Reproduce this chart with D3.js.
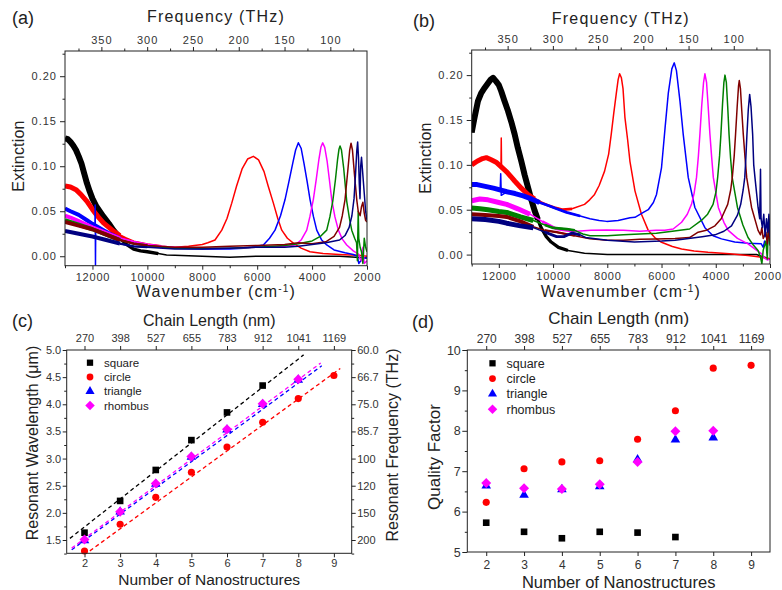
<!DOCTYPE html>
<html>
<head>
<meta charset="utf-8">
<script src="https://cdn.jsdelivr.net/npm/d3@7"></script>
<style>
body { margin: 0; background: #fff; }
</style>
</head>
<body>
<svg id="fig" width="782" height="590"></svg>
<script>
// ---- spectra (wavenumber cm-1, extinction) ----
// a third value of 1 marks a single-pixel spike
var aBlack = [[13000,0.131],[12900,0.130],[12800,0.127],[12700,0.123],[12600,0.118],[12500,0.111],[12400,0.103],[12300,0.092],[12200,0.081],[12100,0.072],[12000,0.064],[11850,0.055],[11600,0.044],[11400,0.036],[11240,0.029],[11000,0.020],[10750,0.013],[10500,0.008],[10250,0.006],[10000,0.005],[9600,0.003],[9300,0.0015],[9000,0.001],[8000,0.000],[7000,-0.001],[6000,0.000],[5000,0.000],[4000,0.000],[3000,0.000],[2400,-0.001],[2000,-0.002]];
var aRed = [[13000,0.078],[12800,0.077],[12600,0.074],[12400,0.068],[12200,0.061],[12000,0.052],[11800,0.044],[11600,0.037],[11400,0.032],[11200,0.027],[11000,0.023],[10800,0.020],[10500,0.016],[10000,0.013],[9500,0.011],[9000,0.010],[8500,0.011],[8000,0.013],[7800,0.015],[7536,0.018],[7290,0.029],[7100,0.042],[6927,0.059],[6750,0.078],[6550,0.097],[6350,0.108],[6140,0.111],[5950,0.107],[5750,0.094],[5600,0.078],[5410,0.059],[5250,0.042],[5105,0.029],[4900,0.020],[4683,0.0145],[4400,0.009],[4076,0.005],[3600,0.003],[3000,0.002],[2618,0.0015],[2300,0.001],[2000,0.000]];
var aBlue = [[13000,0.053],[12800,0.050],[12500,0.046],[12200,0.040],[12000,0.036],[11910,0.034,1],[11900,0.057,1],[11890,-0.010,1],[11880,0.033,1],[11600,0.029],[11300,0.024],[11000,0.020],[10500,0.015],[10000,0.012],[9500,0.010],[9000,0.009],[8000,0.008],[7000,0.008],[6500,0.009],[6200,0.010],[5776,0.0125],[5550,0.020],[5350,0.029],[5150,0.045],[4985,0.063],[4850,0.082],[4700,0.104],[4600,0.118],[4500,0.126],[4400,0.120],[4300,0.104],[4180,0.083],[4075,0.063],[3950,0.044],[3831,0.029],[3650,0.018],[3467,0.0125],[3200,0.007],[2800,0.004],[2500,0.002],[2350,0.000],[2300,-0.008],[2200,-0.004],[2100,-0.002],[2000,-0.002]];
var aMagenta = [[13000,0.045],[12800,0.043],[12500,0.039],[12000,0.032],[11500,0.026],[11000,0.020],[10500,0.016],[10000,0.013],[9500,0.011],[9000,0.010],[8000,0.009],[7000,0.009],[6000,0.010],[5500,0.010],[5000,0.011],[4620,0.0125],[4400,0.018],[4195,0.029],[4080,0.044],[3955,0.063],[3850,0.085],[3750,0.108],[3680,0.121],[3613,0.126],[3540,0.121],[3450,0.105],[3370,0.085],[3285,0.063],[3170,0.044],[3043,0.029],[2900,0.019],[2738,0.0125],[2500,0.006],[2300,0.002],[2250,-0.003],[2190,-0.005],[2150,0.010],[2100,-0.008],[2000,-0.005]];
var aGreen = [[13000,0.040],[12500,0.035],[12000,0.030],[11500,0.024],[11000,0.018],[10500,0.014],[10000,0.012],[9000,0.009],[8000,0.009],[7000,0.009],[6000,0.010],[5000,0.012],[4500,0.014],[4000,0.017],[3700,0.022],[3467,0.029],[3350,0.044],[3248,0.061],[3150,0.085],[3070,0.108],[3020,0.119],[2982,0.1225],[2930,0.118],[2850,0.098],[2738,0.061],[2640,0.042],[2556,0.029],[2450,0.020],[2380,0.015],[2350,-0.005],[2320,0.050],[2300,0.020],[2250,0.010],[2200,0.005],[2150,-0.008],[2100,0.020],[2050,0.010],[2000,0.005]];
var aMaroon = [[13000,0.038],[12500,0.034],[12000,0.030],[11500,0.024],[11000,0.018],[10500,0.014],[10000,0.012],[9000,0.010],[8000,0.010],[7000,0.011],[6000,0.012],[5000,0.013],[4500,0.015],[4000,0.014],[3500,0.016],[3200,0.022],[3000,0.032],[2900,0.045],[2800,0.063],[2700,0.095],[2630,0.118],[2581,0.1255],[2530,0.118],[2460,0.092],[2374,0.063],[2320,0.050],[2250,0.045],[2200,0.055],[2150,0.060],[2100,0.048],[2050,0.040],[2000,0.038]];
var aNavy = [[13000,0.028],[12500,0.025],[12000,0.022],[11500,0.018],[11000,0.014],[10500,0.011],[10000,0.010],[9000,0.008],[8000,0.008],[7000,0.009],[6000,0.010],[5000,0.010],[4500,0.011],[4000,0.013],[3500,0.015],[3000,0.018],[2800,0.023],[2650,0.032],[2550,0.045],[2472,0.064],[2420,0.090],[2370,0.118],[2340,0.127],[2310,0.110],[2280,0.080],[2254,0.064],[2230,0.100],[2200,0.110],[2150,0.090],[2100,0.070],[2050,0.050],[2000,0.040]];

var bBlack = [[13000,0.136],[12900,0.152],[12770,0.171],[12650,0.180],[12520,0.186],[12400,0.191],[12300,0.195],[12215,0.197],[12100,0.193],[12000,0.189],[11910,0.182],[11800,0.172],[11660,0.160],[11540,0.148],[11415,0.134],[11300,0.119],[11170,0.104],[11050,0.089],[10925,0.075],[10800,0.061],[10680,0.049],[10560,0.039],[10440,0.030],[10250,0.020],[10070,0.014],[9800,0.008],[9450,0.0045],[8840,0.0015],[8000,0.000],[7000,0.000],[6000,0.000],[5000,0.000],[4000,0.000],[3000,0.000],[2500,0.000],[2200,-0.003],[2000,-0.005]];
var bRed = [[13000,0.100],[12800,0.104],[12600,0.107],[12460,0.108],[12300,0.106],[12100,0.103],[11920,0.100,1],[11910,0.130,1],[11900,0.100,1],[11700,0.092],[11415,0.082],[11170,0.074],[10925,0.067],[10680,0.062],[10440,0.058],[10200,0.055],[9950,0.0525],[9634,0.050],[9300,0.051],[8840,0.056],[8650,0.061],[8470,0.067],[8300,0.077],[8100,0.093],[7950,0.112],[7855,0.134],[7760,0.158],[7670,0.179],[7600,0.195],[7545,0.2015],[7480,0.197],[7420,0.185],[7350,0.153],[7250,0.128],[7165,0.104],[6980,0.071],[6740,0.045],[6490,0.027],[6250,0.019],[6000,0.0137],[5600,0.009],[5260,0.0063],[4800,0.004],[4285,0.0026],[3500,0.001],[2810,-0.001],[2300,-0.003],[2000,-0.005]];
var bBlue = [[13000,0.078],[12800,0.078],[12500,0.076],[12200,0.074],[11950,0.072,1],[11930,0.090,1],[11910,0.066,1],[11700,0.070],[11400,0.068],[11100,0.0655],[10800,0.062],[10500,0.058],[10200,0.055],[9870,0.051],[9500,0.047],[9000,0.043],[8640,0.040],[8300,0.038],[8020,0.037],[7600,0.038],[7160,0.041],[6980,0.0415],[6670,0.047],[6490,0.050],[6300,0.058],[6185,0.067],[6000,0.097],[5870,0.141],[5750,0.180],[5620,0.207],[5530,0.2137],[5450,0.205],[5320,0.171],[5200,0.134],[5015,0.086],[4770,0.0525],[4400,0.030],[4100,0.021],[3790,0.0175],[3300,0.014],[2810,0.0126],[2320,0.012],[2250,0.008],[2200,0.015],[2100,0.010],[2050,0.030],[2000,0.012]];
var bMagenta = [[13000,0.060],[12700,0.062],[12400,0.061],[12000,0.058],[11710,0.056],[11300,0.051],[10850,0.045],[10400,0.037],[9870,0.0285],[9500,0.027],[9130,0.026],[8600,0.027],[8025,0.0275],[7400,0.027],[6800,0.026],[6200,0.027],[5880,0.027],[5570,0.0285],[5260,0.036],[5050,0.045],[4895,0.056],[4800,0.068],[4710,0.086],[4640,0.110],[4585,0.134],[4520,0.165],[4450,0.192],[4400,0.2015],[4340,0.192],[4280,0.165],[4215,0.134],[4150,0.108],[4090,0.086],[3905,0.0525],[3700,0.036],[3540,0.027],[3200,0.018],[2810,0.012],[2500,0.005],[2320,0.001],[2200,-0.004],[2100,-0.006],[2000,-0.005]];
var bGreen = [[13000,0.052],[12700,0.051],[12400,0.050],[12000,0.048],[11710,0.047],[11200,0.042],[10730,0.038],[10300,0.033],[9990,0.0297],[9700,0.029],[9500,0.0285],[9200,0.027],[8900,0.023],[8640,0.021],[8000,0.021],[7410,0.022],[6800,0.023],[6190,0.0237],[5600,0.026],[4965,0.0285],[4530,0.038],[4300,0.045],[4100,0.056],[3990,0.070],[3930,0.086],[3860,0.110],[3810,0.134],[3750,0.168],[3700,0.192],[3660,0.200],[3610,0.192],[3560,0.165],[3510,0.134],[3455,0.108],[3395,0.086],[3200,0.0525],[3000,0.033],[2810,0.019],[2600,0.010],[2440,0.0045],[2350,-0.003],[2300,-0.010],[2250,0.005],[2150,0.015],[2100,-0.005],[2050,0.040],[2000,0.010]];
var bMaroon = [[13000,0.045],[12500,0.044],[12000,0.043],[11710,0.042],[11200,0.037],[10730,0.031],[10300,0.027],[9870,0.025],[9200,0.021],[8640,0.0175],[8000,0.016],[7410,0.016],[6800,0.017],[6200,0.0175],[5500,0.018],[4965,0.019],[4650,0.025],[4350,0.027],[4030,0.032],[3800,0.040],[3560,0.056],[3450,0.072],[3390,0.086],[3320,0.110],[3270,0.134],[3210,0.165],[3160,0.188],[3133,0.194],[3090,0.185],[3040,0.160],[2985,0.134],[2920,0.108],[2860,0.086],[2680,0.0525],[2440,0.027],[2350,0.022],[2300,0.030],[2250,0.018],[2150,0.025],[2100,0.012],[2050,0.028],[2000,0.015]];
var bNavy = [[13000,0.040],[12500,0.039],[12000,0.037],[11710,0.035],[11200,0.032],[10730,0.030],[10300,0.025],[9870,0.020],[9600,0.020],[9300,0.024],[9000,0.022],[8800,0.019],[8000,0.016],[7000,0.014],[6000,0.015],[5500,0.016],[5000,0.018],[4500,0.020],[4030,0.022],[3700,0.026],[3420,0.032],[3200,0.044],[3080,0.056],[2990,0.072],[2930,0.086],[2890,0.108],[2850,0.134],[2800,0.162],[2750,0.1785],[2700,0.165],[2640,0.134],[2600,0.100],[2555,0.086],[2440,0.0525],[2380,0.040],[2350,0.095],[2330,0.040],[2280,0.030],[2230,0.045],[2180,0.020],[2130,0.040],[2080,0.025],[2040,0.045],[2000,0.020]];

// ---- summary data vs number of nanostructures ----
var nValues = [2, 3, 4, 5, 6, 7, 8, 9];
var chainLength = [270, 398, 527, 655, 783, 912, 1041, 1169];
var shapes = ["square", "circle", "triangle", "rhombus"];

// resonant wavelength (um)
var wlSquare = [1.635, 2.22, 2.79, 3.34, 3.85, 4.345];
var wlCircle = [1.297, 1.79, 2.286, 2.747, 3.214, 3.67, 4.105, 4.53];
var wlTriangle = [1.49, 2.02, 2.53, 3.03, 3.53, 4.00, 4.45];
var wlRhombus = [1.51, 2.02, 2.54, 3.04, 3.54, 4.01, 4.46];
// dashed linear fits, [N, wavelength] end points
var fitSquare = [[1.59, 1.53], [8.15, 4.91]];
var fitCircle = [[2.15, 1.30], [9.18, 4.66]];
var fitTriangle = [[1.64, 1.32], [8.66, 4.71]];
var fitRhombus = [[1.64, 1.35], [8.63, 4.76]];

// quality factor
var qSquare = [5.725, 5.50, 5.34, 5.50, 5.48, 5.37];
var qCircle = [6.23, 7.06, 7.23, 7.26, 7.79, 8.495, 9.55, 9.62];
var qTriangle = [6.64, 6.41, 6.55, 6.62, 7.29, 7.78, 7.83];
var qRhombus = [6.71, 6.58, 6.56, 6.68, 7.23, 7.99, 8.00];

// ---- tick values ----
var wnTicks = [12000, 10000, 8000, 6000, 4000, 2000];
var wnMinor = [13000, 11000, 9000, 7000, 5000, 3000];
var thzTicks = [350, 300, 250, 200, 150, 100];
var thzMinor = [375, 325, 275, 225, 175, 125, 75];
var extTicks = [0, 0.05, 0.10, 0.15, 0.20];
var extMinor = [0.025, 0.075, 0.125, 0.175, 0.225];
var wlTicks = [1.5, 2.0, 2.5, 3.0, 3.5, 4.0, 4.5, 5.0];
var wlMinor = [1.25, 1.75, 2.25, 2.75, 3.25, 3.75, 4.25, 4.75];
var freqLabels = ["200", "150", "120", "100", "85.7", "75.0", "66.7", "60.0"];
var qTicks = [5, 6, 7, 8, 9, 10];
var qMinor = [5.5, 6.5, 7.5, 8.5, 9.5];

var C = 0.0299792458; // THz per cm-1
var colors = ["#000000", "#ff0000", "#0000ff", "#ff00ff", "#008000", "#800000", "#000080"];
var font = "'Liberation Sans', Arial, sans-serif";
var ink = "#222", tickInk = "#333";

var svg = d3.select("#fig").attr("font-family", font);

function axis(gen, tx, ty, fs, spacing) {
    var a = svg.append("g")
        .attr("transform", "translate(" + tx + "," + ty + ")")
        .call(gen);
    a.attr("font-family", font).attr("font-size", fs);
    a.select(".domain").remove();
    a.selectAll("line").attr("stroke", ink);
    a.selectAll("text").attr("fill", tickInk).style("letter-spacing", (spacing || 0) + "px");
    return a;
}

function title(x, y, txt, fs, rotate, spacing) {
    var t = svg.append("text")
        .attr("text-anchor", "middle")
        .attr("font-size", fs)
        .attr("fill", ink)
        .style("letter-spacing", (spacing || 0) + "px")
        .attr("transform", "translate(" + x + "," + y + ")" + (rotate ? " rotate(-90)" : ""));
    t.text(txt);
    return t;
}

function frame(x0, y0, x1, y1) {
    svg.append("rect")
        .attr("x", x0).attr("y", y0)
        .attr("width", x1 - x0).attr("height", y1 - y0)
        .attr("fill", "none").attr("stroke", ink).attr("stroke-width", 1);
}

// ---- spectrum panels (a), (b) ----
function spectrumPanel(p, series) {
    var x = d3.scaleLinear().domain([13000, 2000]).range([p.x0, p.x1]);
    var f = d3.scaleLinear().domain([13000 * C, 2000 * C]).range([p.x0, p.x1]);
    var y = d3.scaleLinear().domain([-0.0105, 0.228]).range([p.y1, p.y0]);

    svg.append("clipPath").attr("id", "clip" + p.name)
        .append("rect")
        .attr("x", p.x0).attr("y", p.y0)
        .attr("width", p.x1 - p.x0).attr("height", p.y1 - p.y0);
    var plot = svg.append("g").attr("clip-path", "url(#clip" + p.name + ")");

    var line = d3.line()
        .x(function(d) { return x(d[0]); })
        .y(function(d) { return y(d[1]); });

    series.forEach(function(s, i) {
        var smooth = s.filter(function(d) { return !d[2]; });
        // noisy band at high wavenumber
        plot.append("path")
            .datum(smooth.filter(function(d) { return d[0] >= p.noiseCut; }))
            .attr("d", line).attr("fill", "none")
            .attr("stroke", colors[i]).attr("stroke-width", p.noise[i])
            .attr("stroke-linejoin", "round");
        plot.append("path")
            .datum(smooth.filter(function(d) { return d[0] >= p.noiseCut - 1500 && d[0] <= p.noiseCut + 200; }))
            .attr("d", line).attr("fill", "none")
            .attr("stroke", colors[i]).attr("stroke-width", p.noise[i] * 0.55)
            .attr("stroke-linejoin", "round");
        plot.append("path")
            .datum(s)
            .attr("d", line).attr("fill", "none")
            .attr("stroke", colors[i]).attr("stroke-width", 1.5)
            .attr("stroke-linejoin", "round");
    });

    frame(p.x0, p.y0, p.x1, p.y1);

    var bottom = axis(d3.axisBottom(x).tickValues(wnTicks).tickSize(4).tickPadding(4).tickFormat(d3.format("d")), 0, p.y1, 11, 0.8);
    bottom.selectAll("text").filter(function(d) { return d === 2000; }).attr("dx", p.lastDx);
    axis(d3.axisBottom(x).tickValues(wnMinor).tickSize(2.5).tickFormat(""), 0, p.y1, 11);
    axis(d3.axisTop(f).tickValues(thzTicks).tickSize(4).tickPadding(3).tickFormat(d3.format("d")), 0, p.y0, 11, 1);
    axis(d3.axisTop(f).tickValues(thzMinor).tickSize(2.5).tickFormat(""), 0, p.y0, 11);
    axis(d3.axisLeft(y).tickValues(extTicks).tickSize(5).tickPadding(3).tickFormat(d3.format(".2f")), p.x0, 0, 11, 1);
    axis(d3.axisLeft(y).tickValues(extMinor).tickSize(2.5).tickFormat(""), p.x0, 0, 11);

    var cx = (p.x0 + p.x1) / 2;
    title(cx, 22 + p.dy, "Frequency (THz)", 16, false, 1.2);
    var w = title(cx, 297, "Wavenumber (cm", 16, false, 1.2);
    w.append("tspan").attr("baseline-shift", "super").attr("font-size", 10).text("-1");
    w.append("tspan").text(")");
    title(p.ytx, p.yty, "Extinction", 16, true, 0.2);
    svg.append("text").attr("x", p.lx).attr("y", p.ly).attr("font-size", 18).attr("fill", ink).text(p.label);
}

spectrumPanel({name: "a", x0: 65, x1: 367, y0: 51, y1: 265.7, noiseCut: 11000, lastDx: 0,
    noise: [6, 5, 4, 4, 4, 4, 4], ytx: 24, yty: 156, lx: 12, ly: 24, label: "(a)", dy: 0},
    [aBlack, aRed, aBlue, aMagenta, aGreen, aMaroon, aNavy]);
spectrumPanel({name: "b", x0: 471.7, x1: 770, y0: 50, y1: 264, noiseCut: 10500, lastDx: -2.5,
    noise: [6, 5, 5, 5, 5, 4, 5], ytx: 431, yty: 158, lx: 413, ly: 27, label: "(b)", dy: 2},
    [bBlack, bRed, bBlue, bMagenta, bGreen, bMaroon, bNavy]);

// ---- marker helper ----
var symbolTypes = [d3.symbolSquare, d3.symbolCircle, d3.symbolTriangle, d3.symbolSquare];
var symbolSizes = [44, 40, 40, 50];
var symbolColors = ["#000000", "#ff0000", "#0000ff", "#ff00ff"];

function marker(g, k, px, py, scale) {
    var s = scale || 1;
    g.append("path")
        .attr("d", d3.symbol().type(symbolTypes[k]).size(symbolSizes[k] * s)())
        .attr("fill", symbolColors[k])
        .attr("transform", "translate(" + px + "," + py + ")" + (k === 3 ? " rotate(45)" : ""));
}

function legend(x0, y0, step, fs) {
    var g = svg.append("g");
    shapes.forEach(function(name, k) {
        marker(g, k, x0, y0 + k * step, 0.9);
        g.append("text")
            .attr("x", x0 + 14).attr("y", y0 + k * step + fs * 0.36)
            .attr("font-size", fs).attr("fill", ink).text(name);
    });
}

// ---- panel (c) ----
(function() {
    var x0 = 66.7, x1 = 351.7, y0 = 350, y1 = 553.3;
    var x = d3.scaleLinear().domain([1.5, 9.5]).range([x0, x1]);
    var y = d3.scaleLinear().domain([1.255, 5.0]).range([y1, y0]);
    var g = svg.append("g");

    var fits = [fitSquare, fitCircle, fitTriangle, fitRhombus];
    fits.forEach(function(fl, k) {
        g.append("path")
            .datum(fl)
            .attr("d", d3.line().x(function(d) { return x(d[0]); }).y(function(d) { return y(d[1]); }))
            .attr("fill", "none").attr("stroke", symbolColors[k])
            .attr("stroke-width", 1.3).attr("stroke-dasharray", "4,3");
    });

    [wlSquare, wlCircle, wlTriangle, wlRhombus].forEach(function(vals, k) {
        vals.forEach(function(v, i) { marker(g, k, x(nValues[i]), y(v)); });
    });

    frame(x0, y0, x1, y1);
    axis(d3.axisBottom(x).tickValues(nValues).tickSize(4).tickPadding(2).tickFormat(d3.format("d")), 0, y1, 11);
    axis(d3.axisTop(x).tickValues(nValues).tickSize(4).tickPadding(4)
        .tickFormat(function(d, i) { return chainLength[i]; }), 0, y0, 11);
    axis(d3.axisLeft(y).tickValues(wlTicks).tickSize(4).tickPadding(1.5).tickFormat(d3.format(".1f")), x0, 0, 11);
    axis(d3.axisLeft(y).tickValues(wlMinor).tickSize(2.5).tickFormat(""), x0, 0, 11);
    axis(d3.axisRight(y).tickValues(wlTicks).tickSize(4).tickPadding(1.5)
        .tickFormat(function(d, i) { return freqLabels[i]; }), x1, 0, 11);
    axis(d3.axisRight(y).tickValues(wlMinor).tickSize(2.5).tickFormat(""), x1, 0, 11);

    legend(90, 362.7, 14.3, 11.5);

    title((x0 + x1) / 2, 326, "Chain Length (nm)", 16);
    title((x0 + x1) / 2, 584.5, "Number of Nanostructures", 15.5);
    title(37.5, 443, "Resonant Wavelength (\u03bcm)", 16, true);
    title(397.5, 445, "Resonant Frequency (THz)", 16, true);
    svg.append("text").attr("x", 12).attr("y", 327).attr("font-size", 18).attr("fill", ink).text("(c)");
})();

// ---- panel (d) ----
(function() {
    var x0 = 467.3, x1 = 770, y0 = 350, y1 = 552;
    var x = d3.scaleLinear().domain([1.5, 9.5]).range([x0, x1]);
    var y = d3.scaleLinear().domain([5, 10]).range([y1, y0]);
    var g = svg.append("g");

    [qSquare, qCircle, qTriangle, qRhombus].forEach(function(vals, k) {
        vals.forEach(function(v, i) { marker(g, k, x(nValues[i]), y(v)); });
    });

    frame(x0, y0, x1, y1);
    axis(d3.axisBottom(x).tickValues(nValues).tickSize(4).tickPadding(4).tickFormat(d3.format("d")), 0, y1, 12);
    axis(d3.axisTop(x).tickValues(nValues).tickSize(4).tickPadding(3)
        .tickFormat(function(d, i) { return chainLength[i]; }), 0, y0, 12);
    axis(d3.axisLeft(y).tickValues(qTicks).tickSize(5).tickPadding(1.5).tickFormat(d3.format("d")), x0, 0, 12.5);
    axis(d3.axisLeft(y).tickValues(qMinor).tickSize(2.5).tickFormat(""), x0, 0, 12);

    legend(492.5, 363.3, 15.3, 12.5);

    title((x0 + x1) / 2, 324, "Chain Length (nm)", 17);
    title((x0 + x1) / 2, 588, "Number of Nanostructures", 16.5);
    title(440, 457, "Quality Factor", 17, true);
    svg.append("text").attr("x", 412).attr("y", 328).attr("font-size", 18).attr("fill", ink).text("(d)");
})();
</script>
</body>
</html>
